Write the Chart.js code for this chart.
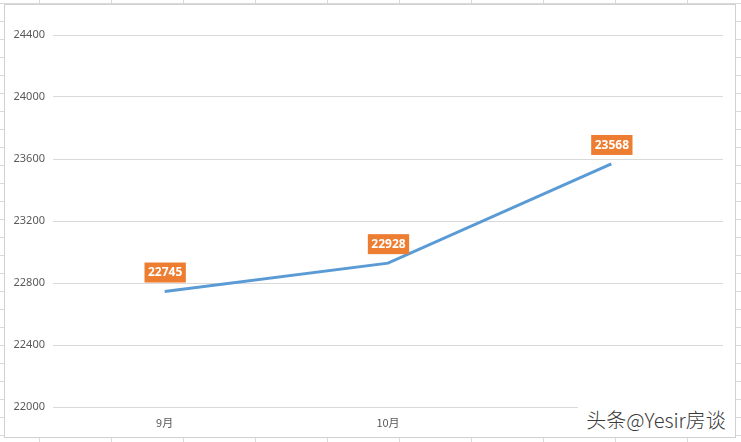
<!DOCTYPE html>
<html>
<head>
<meta charset="utf-8">
<script src="https://cdn.jsdelivr.net/npm/chart.js@4"></script>
<style>
    html, body {
        margin: 0;
        padding: 0;
    }
    body {
        width: 741px;
        height: 442px;
        position: relative;
        overflow: hidden;
        background-color: #fff;
        background-image:
            repeating-linear-gradient(to right, transparent 0 39px, #dadada 39px 40px, transparent 40px 72px),
            repeating-linear-gradient(to bottom, transparent 0 3px, #dadada 3px 4px, transparent 4px 18px);
        background-position: 0 0, 0 0;
    }
    #box {
        position: absolute;
        left: 4px;
        top: 4px;
        width: 730px;
        height: 432px;
        background: #fff;
        border: 1px solid #d0d0d0;
    }
    #mark {
        position: absolute;
        left: 578px;
        top: 405px;
        width: 156px;
        height: 30px;
        background: #fff;
        font-family: "Noto Sans CJK SC", sans-serif;
        font-size: 20px;
        line-height: 30px;
        color: #3a3a3a;
        text-align: center;
        font-weight: 300;
    }
</style>
</head>
<body>
<div id="box"><canvas id="priceChart"></canvas></div>
<div id="mark">头条@Yesir房谈</div>

<script>
const months = ["9月", "10月", "11月"];
const prices = [22745, 22928, 23568];
const yMin = 22000;
const yMax = 24400;
const yStep = 400;

// orange value boxes above each point
const valueBoxes = {
    id: "valueBoxes",
    afterDatasetsDraw(chart) {
        const ctx = chart.ctx;
        const meta = chart.getDatasetMeta(0);
        ctx.save();
        ctx.font = "bold 12px 'Noto Sans', sans-serif";
        ctx.textAlign = "center";
        ctx.textBaseline = "middle";
        meta.data.forEach((pt, i) => {
            const text = String(prices[i]);
            const w = ctx.measureText(text).width + 7;
            const h = 20;
            const cx = pt.x + 0.5;
            const cy = pt.y - 19;
            ctx.fillStyle = "#ED7D31";
            ctx.fillRect(cx - w / 2, cy - h / 2, w, h);
            ctx.fillStyle = "#fff";
            ctx.fillText(text, cx, cy + 0.5);
        });
        ctx.restore();
    },
};

document.addEventListener("DOMContentLoaded", () => {
    const canvas = document.getElementById("priceChart");

    new Chart(canvas, {
        type: "line",
        data: {
            labels: months,
            datasets: [
                {
                    data: prices,
                    borderColor: "#5B9BD5",
                    borderWidth: 3,
                    pointRadius: 0,
                    tension: 0,
                    fill: false,
                },
            ],
        },
        options: {
            responsive: true,
            maintainAspectRatio: false,
            animation: false,
            layout: {
                padding: { left: 0, top: 30, right: 12, bottom: 0 },
            },
            plugins: {
                legend: { display: false },
                tooltip: { enabled: false },
            },
            scales: {
                x: {
                    offset: true,
                    grid: { display: false, drawTicks: false },
                    border: { display: false },
                    ticks: {
                        padding: 9,
                        color: "#595959",
                        font: { family: "'Noto Sans CJK SC', sans-serif", size: 11 },
                    },
                    afterFit: (scale) => {
                        scale.height = 30;
                    },
                },
                y: {
                    min: yMin,
                    max: yMax,
                    grid: { color: "#d9d9d9", lineWidth: 1, drawTicks: false },
                    border: { display: false },
                    ticks: {
                        stepSize: yStep,
                        padding: 8,
                        color: "#595959",
                        font: { family: "'Noto Sans', sans-serif", size: 11 },
                        callback: (value) => String(value),
                    },
                    afterFit: (scale) => {
                        scale.width = 48;
                    },
                },
            },
        },
        plugins: [valueBoxes],
    });
});
</script>
</body>
</html>
